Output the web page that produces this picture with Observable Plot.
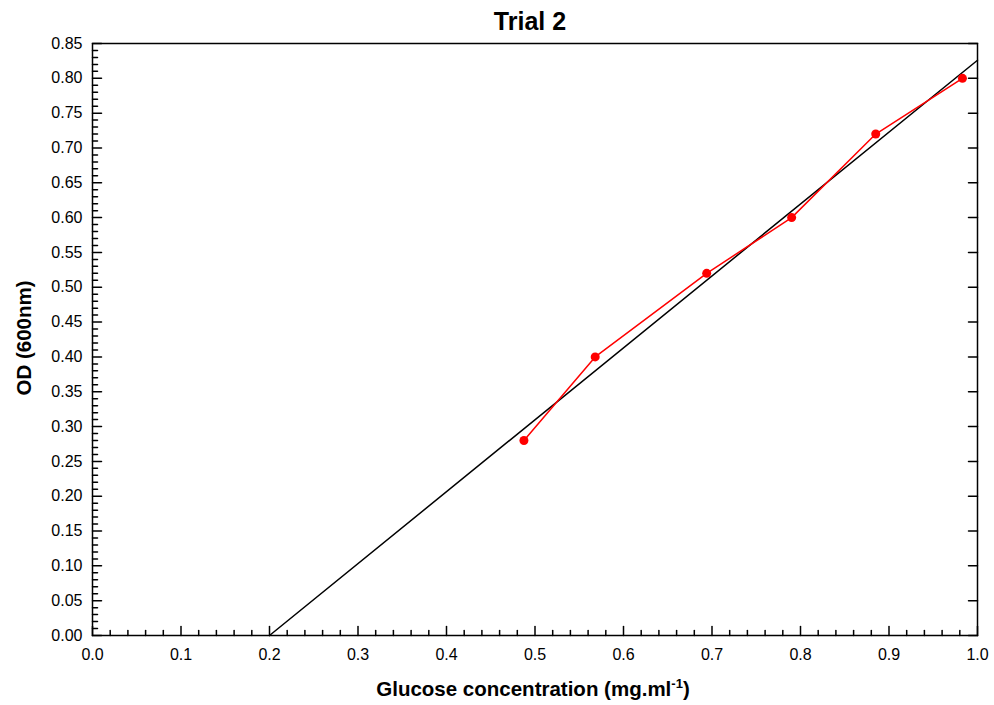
<!DOCTYPE html>
<html>
<head>
<meta charset="utf-8">
<script src="https://cdn.jsdelivr.net/npm/d3@7"></script>
<script src="https://cdn.jsdelivr.net/npm/@observablehq/plot@0.6"></script>
<style>
  html, body { margin: 0; padding: 0; background: #fff; }
  svg { font-family: "Liberation Sans", Arial, sans-serif; }
</style>
</head>
<body>
<div id="chart"></div>
<script>
// Data
const glucose = [0.4875, 0.568, 0.694, 0.790, 0.885, 0.983];
const od = [0.28, 0.40, 0.52, 0.60, 0.72, 0.80];
const fitX = [0.2, 1.0];
const fitY = [0.0, 0.826];

// Tick values
const xMajor = [0.0, 0.1, 0.2, 0.3, 0.4, 0.5, 0.6, 0.7, 0.8, 0.9, 1.0];
const yMajor = [0.00, 0.05, 0.10, 0.15, 0.20, 0.25, 0.30, 0.35, 0.40, 0.45, 0.50, 0.55, 0.60, 0.65, 0.70, 0.75, 0.80, 0.85];
const xMinor = d3.range(0, 51).map(i => i / 50).filter(v => Math.round(v * 50) % 5 !== 0);
const yMinor = d3.range(0, 86).map(i => i / 100).filter(v => Math.round(v * 100) % 5 !== 0);

const title = "Trial 2";
const xLabel = "Glucose concentration (mg.ml";
const xLabelSup = "-1";
const xLabelEnd = ")";
const yLabel = "OD (600nm)";

const points = glucose.map((x, i) => ({x, y: od[i]}));
const fit = fitX.map((x, i) => ({x, y: fitY[i]}));

const tickShape = {
  draw(context, length) {
    context.moveTo(0, 0);
    context.lineTo(0, -length);
  }
};

const W = 994, H = 705;
const mL = 92, mR = 17, mT = 43, mB = 70;

const chart = Plot.plot({
  width: W,
  height: H,
  marginLeft: mL,
  marginRight: mR,
  marginTop: mT,
  marginBottom: mB,
  style: {fontFamily: "'Liberation Sans', Arial, sans-serif", fontSize: "16px", color: "black", background: "white"},
  x: {domain: [0, 1], label: null},
  y: {domain: [0, 0.85], label: null},
  marks: [
    Plot.axisX({ticks: xMajor, tickSize: 0, tickPadding: 13, tickFormat: d3.format(".1f"), fontSize: 16, fill: "black", label: null}),
    Plot.axisY({ticks: yMajor, tickSize: 0, tickPadding: 10, tickFormat: d3.format(".2f"), fontSize: 16, fill: "black", label: null}),
    // inward ticks, bottom
    Plot.vector(xMajor, {x: d => d, frameAnchor: "bottom", length: 9, rotate: 0, anchor: "start", shape: tickShape, stroke: "black", strokeWidth: 1.5}),
    Plot.vector(xMinor, {x: d => d, frameAnchor: "bottom", length: 5, rotate: 0, anchor: "start", shape: tickShape, stroke: "black", strokeWidth: 1.5}),
    // inward ticks, left
    Plot.vector(yMajor, {y: d => d, frameAnchor: "left", length: 9, rotate: 90, anchor: "start", shape: tickShape, stroke: "black", strokeWidth: 1.5}),
    Plot.vector(yMinor, {y: d => d, frameAnchor: "left", length: 5, rotate: 90, anchor: "start", shape: tickShape, stroke: "black", strokeWidth: 1.5}),
    // inward ticks, right
    Plot.vector(yMajor, {y: d => d, frameAnchor: "right", length: 9, rotate: -90, anchor: "start", shape: tickShape, stroke: "black", strokeWidth: 1.5}),
    Plot.frame({stroke: "black", strokeWidth: 1.5}),
    Plot.line(fit, {x: "x", y: "y", stroke: "black", strokeWidth: 1.5}),
    Plot.line(points, {x: "x", y: "y", stroke: "#ff0000", strokeWidth: 1.5}),
    Plot.dot(points, {x: "x", y: "y", r: 4.5, fill: "#ff0000", stroke: "none"})
  ]
});

const svg = d3.select(chart);
svg.append("text")
  .attr("x", 530).attr("y", 30)
  .attr("text-anchor", "middle")
  .attr("font-weight", "bold").attr("font-size", 25)
  .attr("fill", "black")
  .text(title);

const xt = svg.append("text")
  .attr("x", 533).attr("y", 696)
  .attr("text-anchor", "middle")
  .attr("font-weight", "bold").attr("font-size", 20.5)
  .attr("fill", "black");
xt.append("tspan").text(xLabel);
xt.append("tspan").attr("dy", -8).attr("font-size", 13).text(xLabelSup);
xt.append("tspan").attr("dy", 8).text(xLabelEnd);

svg.append("text")
  .attr("transform", "translate(31,338) rotate(-90)")
  .attr("text-anchor", "middle")
  .attr("font-weight", "bold").attr("font-size", 20.5)
  .attr("fill", "black")
  .text(yLabel);

document.getElementById("chart").appendChild(chart);
</script>
</body>
</html>
